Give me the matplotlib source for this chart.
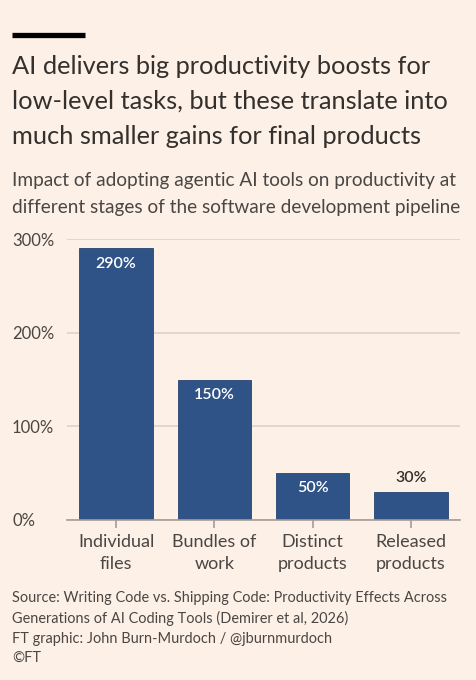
import matplotlib
matplotlib.use("Agg")
import matplotlib.pyplot as plt
import numpy as np

categories = ["Individual\nfiles", "Bundles of\nwork", "Distinct\nproducts", "Released\nproducts"]
values = [290, 150, 50, 30]
yticks = [0, 100, 200, 300]
ytick_labels = ["0%", "100%", "200%", "300%"]

title = ("AI delivers big productivity boosts for\n"
         "low-level tasks, but these translate into\n"
         "much smaller gains for final products")
subtitle = ("Impact of adopting agentic AI tools on productivity at\n"
            "different stages of the software development pipeline")
footer = ("Source: Writing Code vs. Shipping Code: Productivity Effects Across\n"
          "Generations of AI Coding Tools (Demirer et al, 2026)\n"
          "FT graphic: John Burn-Murdoch / @jburnmurdoch\n"
          "\u00a9FT")

bg = "#FDF0E6"
ink = "#33302E"
grey_ink = "#4a4644"
bar_color = "#2F5387"

plt.rcParams["font.family"] = ["Lato", "DejaVu Sans"]

W, H = 477, 680
fig = plt.figure(figsize=(W / 100, H / 100), dpi=100, facecolor=bg)

# black rule at the top
fig.add_artist(plt.Line2D([12 / W, 85 / W], [1 - 34.5 / H, 1 - 34.5 / H],
                          color="#000000", linewidth=3.8, solid_capstyle="butt"))

fig.text(12 / W, 1 - 55 / H, title, fontsize=18.3, color=ink, va="top", ha="left",
         linespacing=1.62)
fig.text(12 / W, 1 - 172 / H, subtitle, fontsize=13.7, color=grey_ink, va="top", ha="left",
         linespacing=1.68)
fig.text(12 / W, 1 - 591 / H, footer, fontsize=10.45, color=grey_ink, va="top", ha="left",
         linespacing=1.5)

ax = fig.add_axes([67 / W, 1 - 520 / H, (460 - 67) / W, (520 - 239) / H])
ax.set_facecolor(bg)

x = np.arange(len(values))
ax.bar(x, values, width=0.75, color=bar_color, edgecolor="#274674", linewidth=0.6, zorder=3)

for xi, v in zip(x, values):
    if v >= 50:
        ax.annotate(f"{v}%", (xi, v), xytext=(0, -11), textcoords="offset points",
                    ha="center", va="center", color="white", fontsize=11.5,
                    fontweight="semibold", zorder=4)
    else:
        ax.annotate(f"{v}%", (xi, v), xytext=(0, 10), textcoords="offset points",
                    ha="center", va="center", color=ink, fontsize=11.5,
                    fontweight="semibold", zorder=4)

ax.set_xlim(-0.5, 3.5)
ax.set_ylim(0, 300)
ax.set_yticks(yticks)
ax.set_yticklabels(ytick_labels)
ax.grid(axis="y", color="#DCD3CB", linewidth=1.2, zorder=0)
ax.set_xticks(x)
ax.set_xticklabels(categories, linespacing=1.5)

for s in ["top", "right", "left"]:
    ax.spines[s].set_visible(False)
ax.spines["bottom"].set_color("#A39C96")
ax.spines["bottom"].set_linewidth(1.2)
ax.spines["bottom"].set_zorder(5)

ax.tick_params(axis="y", length=0, labelsize=12, labelcolor=grey_ink, pad=0)
ax.tick_params(axis="x", length=6, width=1.2, color="#A39C96", labelsize=13,
               labelcolor=grey_ink, pad=4)
# y labels sit at the left edge of the figure
for lbl in ax.get_yticklabels():
    lbl.set_horizontalalignment("left")
    lbl.set_position((-55 / (460 - 67), lbl.get_position()[1]))

fig.savefig("out.png", dpi=100, facecolor=bg)
